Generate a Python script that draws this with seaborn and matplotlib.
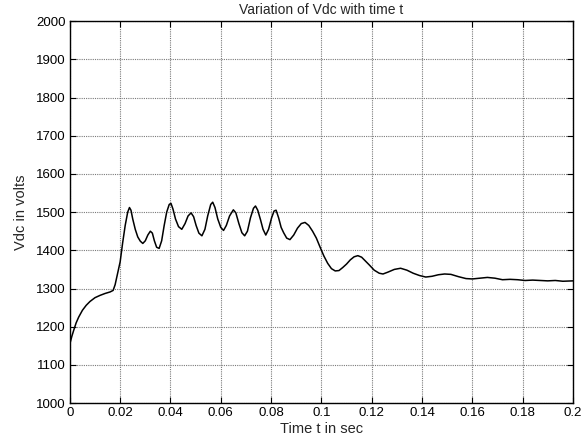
import numpy as np
import pandas as pd
import matplotlib
matplotlib.use("Agg")
import matplotlib.pyplot as plt
import seaborn as sns

time_s = [
    0.0000, 0.0008, 0.0016, 0.0025, 0.0035, 0.0050, 0.0065, 0.0080, 0.0100, 0.0120,
    0.0140, 0.0160, 0.0172, 0.0180, 0.0190, 0.0200, 0.0210, 0.0220, 0.0230, 0.0237,
    0.0243, 0.0250, 0.0260, 0.0270, 0.0280, 0.0290, 0.0300, 0.0310, 0.0320, 0.0328,
    0.0336, 0.0345, 0.0355, 0.0365, 0.0375, 0.0385, 0.0395, 0.0402, 0.0410, 0.0420,
    0.0432, 0.0445, 0.0458, 0.0470, 0.0482, 0.0492, 0.0502, 0.0513, 0.0525, 0.0537,
    0.0548, 0.0560, 0.0568, 0.0577, 0.0588, 0.0600, 0.0611, 0.0622, 0.0635, 0.0650,
    0.0660, 0.0672, 0.0684, 0.0695, 0.0706, 0.0718, 0.0730, 0.0738, 0.0747, 0.0758,
    0.0768, 0.0779, 0.0790, 0.0802, 0.0812, 0.0820, 0.0830, 0.0840, 0.0850, 0.0862,
    0.0875, 0.0890, 0.0905, 0.0920, 0.0935, 0.0950, 0.0965, 0.0980, 0.0995, 0.1010,
    0.1025, 0.1040, 0.1055, 0.1070, 0.1085, 0.1100, 0.1115, 0.1130, 0.1145, 0.1160,
    0.1175, 0.1190, 0.1210, 0.1230, 0.1245, 0.1265, 0.1290, 0.1315, 0.1340, 0.1365,
    0.1390, 0.1415, 0.1440, 0.1465, 0.1490, 0.1515, 0.1545, 0.1575, 0.1600, 0.1630,
    0.1660, 0.1690, 0.1720, 0.1750, 0.1780, 0.1810, 0.1840, 0.1870, 0.1900, 0.1930,
    0.1960, 0.2000,
]
vdc_volts = [
    1155, 1175, 1192, 1210, 1225, 1243, 1256, 1266, 1276, 1282,
    1287, 1291, 1295, 1310, 1340, 1370, 1420, 1465, 1500, 1512,
    1505, 1482, 1455, 1435, 1424, 1418, 1425, 1440, 1450, 1445,
    1425, 1408, 1405, 1425, 1465, 1500, 1520, 1523, 1508, 1482,
    1462, 1455, 1470, 1490, 1498, 1488, 1465, 1445, 1438, 1455,
    1490, 1520, 1526, 1512, 1482, 1460, 1452, 1465, 1490, 1506,
    1498, 1470, 1446, 1438, 1450, 1485, 1510, 1516, 1505, 1480,
    1455, 1440, 1455, 1485, 1503, 1505, 1485, 1460, 1446, 1432,
    1428, 1440, 1458, 1470, 1473, 1465, 1450, 1432, 1408, 1385,
    1366, 1352, 1346, 1347, 1355, 1364, 1375, 1383, 1386, 1382,
    1372, 1362, 1348, 1340, 1338, 1343, 1350, 1353, 1348, 1340,
    1334, 1330, 1332, 1336, 1338, 1337, 1331, 1326, 1325, 1327,
    1329, 1327, 1323, 1324, 1323, 1321, 1322, 1321, 1320, 1321,
    1319, 1320,
]
x_ticks = [0, 0.02, 0.04, 0.06, 0.08, 0.1, 0.12, 0.14, 0.16, 0.18, 0.2]
x_tick_labels = ["0", "0.02", "0.04", "0.06", "0.08", "0.1", "0.12", "0.14", "0.16", "0.18", "0.2"]
y_ticks = [1000, 1100, 1200, 1300, 1400, 1500, 1600, 1700, 1800, 1900, 2000]

df = pd.DataFrame({"t": time_s, "vdc": vdc_volts})

sns.set_style("white")
plt.rcParams["font.family"] = ["Liberation Sans", "DejaVu Sans"]

fig = plt.figure(figsize=(5.87, 4.41), dpi=100)
ax = fig.add_axes([0.119, 0.086, 0.857, 0.866])

sns.lineplot(data=df, x="t", y="vdc", ax=ax, color="black", linewidth=1.1,
             estimator=None, sort=False)

ax.set_xlim(0, 0.2)
ax.set_ylim(1000, 2000)
ax.set_xticks(x_ticks)
ax.set_xticklabels(x_tick_labels)
ax.set_yticks(y_ticks)
ax.grid(True, color="#7a7a7a", linestyle=(0, (1, 1)), linewidth=0.8)
ax.tick_params(direction="in", length=4, width=0.8, colors="black",
               labelsize=9.5, top=True, right=True, bottom=True, left=True, pad=3)
for s in ax.spines.values():
    s.set_color("black")
    s.set_linewidth(1.0)
    s.set_visible(True)

ax.set_title("Variation of Vdc with time t", fontsize=10, pad=5)
ax.set_xlabel("Time t in sec", fontsize=10.5, labelpad=2)
ax.set_ylabel("Vdc in volts", fontsize=10.5, labelpad=6)

fig.savefig("out.png", dpi=100, facecolor="white")
